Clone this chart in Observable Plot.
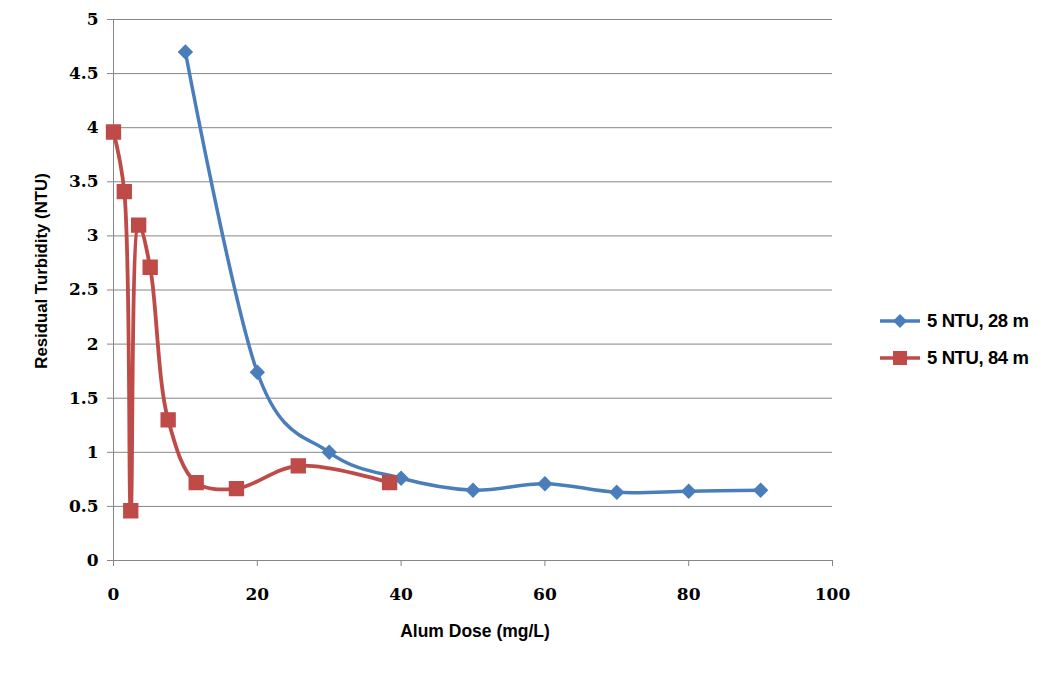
<!DOCTYPE html>
<html>
<head>
<meta charset="utf-8">
<script src="https://cdn.jsdelivr.net/npm/d3@7"></script>
<script src="https://cdn.jsdelivr.net/npm/@observablehq/plot@0.6"></script>
<style>
  html, body { margin: 0; padding: 0; background: #fff; }
  #wrap { position: relative; width: 1052px; height: 677px; }
  #legend { position: absolute; left: 878px; top: 308px; font-family: "Liberation Sans", Arial, sans-serif; font-weight: bold; font-size: 18.5px; letter-spacing: -0.4px; color: #000; }
  .item { display: flex; align-items: center; height: 26px; margin-bottom: 11px; }
  .item svg { margin-right: 5px; }
</style>
</head>
<body>
<div id="wrap"></div>
<script>
const seriesNames = ["5 NTU, 28 m", "5 NTU, 84 m"];
const colors = ["#4A7EBB", "#BE4B48"];

const doseBlue = [10, 20, 30, 40, 50, 60, 70, 80, 90];
const turbBlue = [4.70, 1.74, 1.00, 0.76, 0.65, 0.71, 0.63, 0.64, 0.65];

const doseRed = [0, 1.5, 2.4, 3.5, 5.1, 7.6, 11.5, 17.1, 25.7, 38.4];
const turbRed = [3.96, 3.41, 0.46, 3.10, 2.71, 1.30, 0.72, 0.665, 0.875, 0.72];

const xTicks = [0, 20, 40, 60, 80, 100];
const yTicks = [0, 0.5, 1, 1.5, 2, 2.5, 3, 3.5, 4, 4.5, 5];

const blue = doseBlue.map((d, i) => ({x: d, y: turbBlue[i]}));
const red = doseRed.map((d, i) => ({x: d, y: turbRed[i]}));

const tickFont = {fontFamily: "'DejaVu Serif', serif", fontWeight: "bold", fontSize: 17};
const gray = "#868686";

const chart = Plot.plot({
  width: 1052, height: 677,
  marginLeft: 113, marginRight: 220, marginTop: 19, marginBottom: 117,
  x: {domain: [0, 100]},
  y: {domain: [0, 5]},
  style: {background: "#fff", color: "#000"},
  marks: [
    Plot.gridY(yTicks, {stroke: gray, strokeOpacity: 1, strokeWidth: 1}),
    Plot.ruleX([0], {stroke: gray, strokeWidth: 1}),
    Plot.ruleY([0], {stroke: gray, strokeWidth: 1}),
    Plot.axisY(yTicks, {tickSize: 6, tickPadding: 9, stroke: gray, tickFormat: d => String(d), ...tickFont, fill: "#000", label: null}),
    Plot.axisX(xTicks, {tickSize: 6, tickPadding: 21, stroke: gray, tickFormat: d => String(d), ...tickFont, fill: "#000", label: null}),
    Plot.text(["Residual Turbidity (NTU)"], {frameAnchor: "left", textAnchor: "middle", dx: -72, dy: -19, rotate: -90, fontFamily: "'Liberation Sans', Arial, sans-serif", fontWeight: "bold", fontSize: 16.8, fill: "#000"}),
    Plot.text(["Alum Dose (mg/L)"], {frameAnchor: "bottom", dx: 2, dy: 76, fontFamily: "'Liberation Sans', Arial, sans-serif", fontWeight: "bold", fontSize: 17.5, letterSpacing: -0.3, fill: "#000"}),
    Plot.line(blue, {x: "x", y: "y", curve: "cardinal", stroke: colors[0], strokeWidth: 3.5}),
    Plot.line(red, {x: "x", y: "y", curve: "catmull-rom", stroke: colors[1], strokeWidth: 3.8}),
    Plot.dot(blue, {x: "x", y: "y", symbol: "diamond2", r: 6, fill: colors[0], stroke: colors[0]}),
    Plot.dot(red, {x: "x", y: "y", symbol: "square", r: 7.8, fill: colors[1], stroke: colors[1]})
  ]
});

const wrap = document.getElementById("wrap");
wrap.appendChild(chart);

const legend = document.createElement("div");
legend.id = "legend";
seriesNames.forEach((name, i) => {
  const item = document.createElement("div");
  item.className = "item";
  const sym = i === 0
    ? `<polygon points="22,6 29,13 22,20 15,13" fill="${colors[i]}"/>`
    : `<rect x="15" y="6" width="14" height="14" fill="${colors[i]}"/>`;
  item.innerHTML = `<svg width="44" height="26"><line x1="2" y1="13" x2="42" y2="13" stroke="${colors[i]}" stroke-width="3.5"/>${sym}</svg><span>${name}</span>`;
  legend.appendChild(item);
});
wrap.appendChild(legend);
</script>
</body>
</html>
